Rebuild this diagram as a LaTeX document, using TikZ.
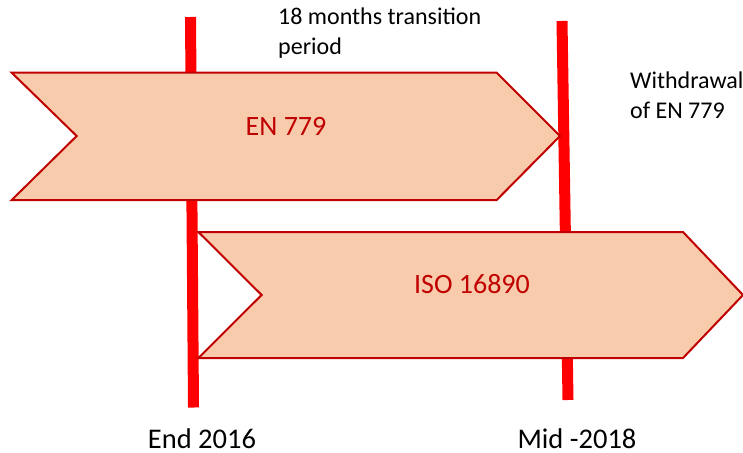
\documentclass[tikz,border=0pt]{standalone}
\usepackage{fontspec}
\setmainfont{Carlito}
\definecolor{linered}{HTML}{FF0000}
\definecolor{peach}{HTML}{F8CBAD}
\definecolor{darkred}{HTML}{C00000}
\begin{document}
\begin{tikzpicture}[x=1pt,y=-1pt,
  timeline/.style={draw=linered, line width=11pt},
  arrowshape/.style={fill=peach, draw=darkred, line width=2pt, line join=miter},
  inlabel/.style={text=darkred, font=\fontsize{28}{33}\selectfont, inner sep=0pt},
  toplabel/.style={text=black, font=\fontsize{24}{29}\selectfont, inner sep=0pt, anchor=base west},
  datelabel/.style={text=black, font=\fontsize{28.5}{34}\selectfont, inner sep=0pt, anchor=base}]
\useasboundingbox (0,0) rectangle (743,452);
% timeline markers
\coordinate (endtop) at (190.5,17);
\coordinate (endbot) at (193.5,407.5);
\coordinate (midtop) at (562,21);
\coordinate (midbot) at (568,400);
\draw[timeline] (endtop) -- (endbot);
\draw[timeline] (midtop) -- (midbot);
% EN 779 arrow
\draw[arrowshape] (11.7,72.7) -- (496.7,72.7) -- (560,136) -- (496.7,200) -- (11.7,200) -- (76.7,136) -- cycle;
\node[inlabel] (en) at (286,126) {EN 779};
% ISO 16890 arrow
\draw[arrowshape] (198.4,232) -- (683,232) -- (743,295) -- (683,358) -- (198.4,358) -- (261.6,295) -- cycle;
\node[inlabel] (iso) at (472,284) {ISO 16890};
% labels
\node[toplabel] (trans1) at (278,25) {18 months transition};
\node[toplabel] (trans2) at (278,54.5) {period};
\node[toplabel] (with1) at (630,88.3) {Withdrawal};
\node[toplabel] (with2) at (630,118.3) {of EN 779};
\node[datelabel] (end) at (202,448) {End 2016};
\node[datelabel] (mid) at (577,448) {Mid -2018};
\end{tikzpicture}
\end{document}
